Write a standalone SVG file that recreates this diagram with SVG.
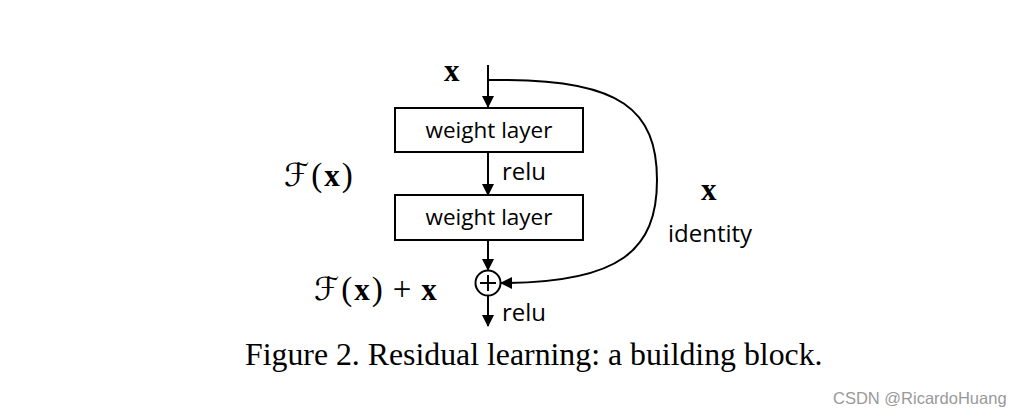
<svg xmlns="http://www.w3.org/2000/svg" width="1024" height="418" viewBox="0 0 1024 418">
<style>
.ln{stroke:#000;stroke-width:2;fill:none}
.box{fill:#fff;stroke:#000;stroke-width:2}
.lbl{font-family:"Open Sans","Liberation Sans",sans-serif;font-size:22.5px;fill:#000}
.lbl2{font-family:"Open Sans","Liberation Sans",sans-serif;font-size:24px;fill:#000}
.math{font-family:"Liberation Serif","DejaVu Serif",serif;font-size:33px;fill:#000}
.bx{font-family:"Liberation Serif","DejaVu Serif",serif;font-weight:bold;font-size:31px;fill:#000}
.cal{font-family:"DejaVu Sans",sans-serif;font-style:italic;font-size:32px}
.cap{font-family:"Liberation Serif",serif;font-size:31.8px;fill:#000}
</style>
<defs>
<marker id="ah" markerWidth="12" markerHeight="12" refX="11" refY="6" orient="auto" markerUnits="userSpaceOnUse"><path d="M0,0 L12,6 L0,12 Z" fill="#000"/></marker>
</defs>
<rect width="1024" height="418" fill="#fff"/>
<g id="connectors">
<line class="ln" x1="488" y1="65" x2="488" y2="107" marker-end="url(#ah)"/>
<line class="ln" x1="488" y1="152" x2="488" y2="195" marker-end="url(#ah)"/>
<line class="ln" x1="488" y1="240" x2="488" y2="270" marker-end="url(#ah)"/>
<line class="ln" x1="488" y1="295" x2="488" y2="326" marker-end="url(#ah)"/>
<path class="ln" d="M488,80 L505,80 C620,80 657,110 657,180 C657,250 620,283 501,283" marker-end="url(#ah)"/>
</g>
<g id="x-in"><text class="bx" x="444" y="81">x</text></g>
<g id="weight1"><rect class="box" x="395" y="108" width="188" height="44"/><text class="lbl" x="489" y="138" text-anchor="middle">weight layer</text></g>
<g id="relu1"><text class="lbl2" x="502" y="180">relu</text></g>
<g id="fx"><text class="math" x="284" y="186" letter-spacing="2"><tspan class="cal">ℱ</tspan>(<tspan class="bx">x</tspan>)</text></g>
<g id="weight2"><rect class="box" x="395" y="195" width="188" height="45"/><text class="lbl" x="489" y="225" text-anchor="middle">weight layer</text></g>
<g id="identity"><text class="bx" x="701" y="200">x</text><text class="lbl2" x="668" y="242">identity</text></g>
<g id="add"><circle cx="488" cy="283" r="12.5" fill="#fff" stroke="#000" stroke-width="2"/><path d="M488,275 V291 M480,283 H496" stroke="#000" stroke-width="2"/></g>
<g id="fxx"><text class="math" x="314" y="300" letter-spacing="2"><tspan class="cal">ℱ</tspan>(<tspan class="bx">x</tspan>)<tspan dx="8">+</tspan><tspan class="bx" dx="8">x</tspan></text></g>
<g id="relu2"><text class="lbl2" x="502" y="321">relu</text></g>
<g id="caption"><text class="cap" x="245" y="365">Figure 2. Residual learning: a building block.</text></g>
<g id="wm"><text x="833" y="404" font-family="Liberation Sans,sans-serif" font-size="16.5" fill="#999">CSDN @RicardoHuang</text></g>
</svg>
